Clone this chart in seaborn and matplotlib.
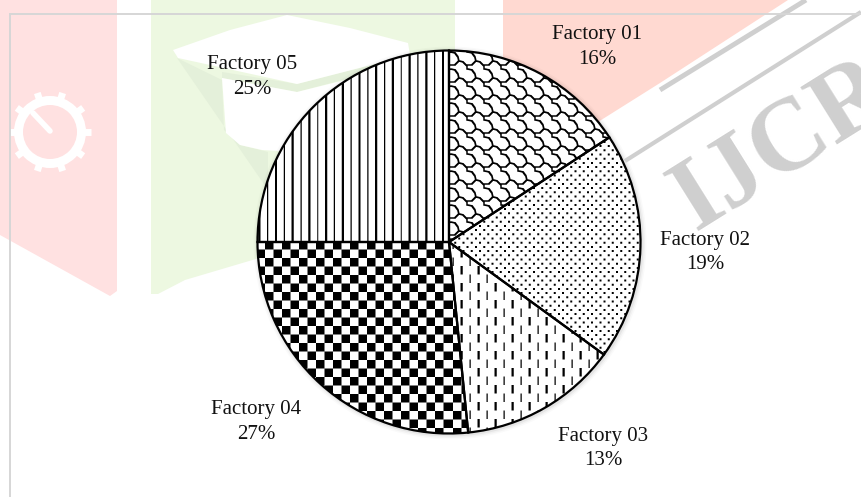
import numpy as np
import seaborn as sns
import matplotlib.pyplot as plt
from matplotlib.patches import Polygon, Circle

categories = ["Factory 01", "Factory 02", "Factory 03", "Factory 04", "Factory 05"]
shares = [15.8, 19.2, 13.4, 26.6, 25.0]
shown_pct = [16, 19, 13, 27, 25]
label_pos = [(597, 47), (705, 252.5), (603, 448.5), (256, 422), (252, 77)]

sns.set_theme(style="white")
plt.rcParams["font.family"] = ["Liberation Serif", "DejaVu Serif"]

W, H = 861, 497
CX, CY, R = 449, 242, 191.5
fig = plt.figure(figsize=(W / 100, H / 100), dpi=100)

# faded page watermark, in pixel coords
bg = fig.add_axes([0, 0, 1, 1])
bg.set_xlim(0, W)
bg.set_ylim(H, 0)
bg.axis("off")

PINK = "#ffe1e1"
GREEN = "#edf8e1"
SALMON = "#ffd9d1"
GREY = "#cfcfcf"
SHADE = "#e4f0da"

bg.add_patch(Polygon([(0, 0), (117, 0), (117, 291), (110, 296), (0, 235)], fc=PINK, lw=0))
bg.add_patch(Polygon([(151, 0), (455, 0), (455, 200), (185, 280), (158, 294), (151, 294)], fc=GREEN, lw=0))
bg.add_patch(Polygon([(503, 0), (788, 0), (660, 83), (598, 122), (503, 122)], fc=SALMON, lw=0))

# hat shape in the green band
bg.add_patch(Polygon([(177, 58), (222, 80), (224, 130), (240, 145), (268, 152), (268, 190)], fc=SHADE, lw=0))
bg.add_patch(Polygon([(222, 72), (297, 84), (410, 55), (410, 62), (297, 92), (222, 78)], fc=SHADE, lw=0))
bg.add_patch(Polygon([(173, 50), (230, 30), (287, 15), (350, 28), (408, 43), (410, 55), (297, 84), (178, 58)],
                     fc="white", lw=0))
bg.add_patch(Polygon([(222, 78), (297, 92), (345, 80), (345, 155), (262, 150), (240, 145), (226, 133)], fc="white", lw=0))

# gear on the pink band
GX, GY = 50, 132
for a in np.arange(0, 2 * np.pi, 2 * np.pi / 10):
    bg.plot([GX + 30 * np.cos(a), GX + 41 * np.cos(a)], [GY + 30 * np.sin(a), GY + 41 * np.sin(a)],
            color="white", lw=5, solid_capstyle="butt")
bg.add_patch(Circle((GX, GY), 36, fc="white", lw=0))
bg.add_patch(Circle((GX, GY), 27, fc=PINK, lw=0))
bg.plot([33, 50], [113, 131], color="white", lw=4, solid_capstyle="round")

# grey stripes and letters
bg.plot([660, 806], [90, 0], color=GREY, lw=3.5, solid_capstyle="butt")
bg.plot([625, 861], [161, 12], color=GREY, lw=3, solid_capstyle="butt")
bg.text(783, 146, "IJCR", color=GREY, fontsize=74, fontweight="bold", rotation=32,
        ha="center", va="center", rotation_mode="anchor")

# page frame
bg.plot([10, 10, W], [H, 14, 14], color="#d6d6d6", lw=1.4, solid_joinstyle="miter")

# soft shadow round the pie
for grow, alpha in [(5, 0.02), (3.5, 0.03), (2, 0.05)]:
    bg.add_patch(Circle((CX + 1, CY + 1), R + grow, fc="black", alpha=alpha, lw=0))

# pie axes lined up on whole pixels so the fill patterns stay crisp
half = 194
ax = fig.add_axes([(CX - half) / W, 1 - (CY + half) / H, 2 * half / W, 2 * half / H])
ax.axis("off")

# patterns are worked out at 4x and averaged down, which gives soft edges like the scan
SS = 4
sub = (np.arange(2 * half * SS) + 0.5) / SS
X, Y = np.meshgrid(CX - half + sub, CY - half + sub)


def near(values, period):
    return np.abs((values + period / 2) % period - period / 2)


def shrink(mask):
    n = 2 * half
    return mask.reshape(n, SS, n, SS).mean(axis=(1, 3))


def shingle():
    size = 17 * SS
    tile = np.ones((size, size))
    strokes = [[(0, 0), (5, 1), (8, 5), (9, 9), (13, 10), (17, 14), (17, 17)],
               [(9, 9), (5, 13), (0, 13)]]
    for stroke in strokes:
        for (x0, y0), (x1, y1) in zip(stroke[:-1], stroke[1:]):
            for t in np.linspace(0, 1, 80):
                cx = int((x0 + (x1 - x0) * t) * SS)
                cy = int((y0 + (y1 - y0) * t) * SS)
                for dx in range(-3, 3):
                    for dy in range(-3, 3):
                        tile[(cy + dy) % size, (cx + dx) % size] = 0
    ix = ((X - 449) * SS).astype(int) % size
    iy = ((Y - 52) * SS).astype(int) % size
    return tile[iy, ix]


def dots():
    row = np.floor((Y - 60) / 4.2).astype(int)
    dx = near(X - 450 - (row % 2) * 4.15, 8.3)
    dy = near(Y - 60 - 2.1, 4.2)
    return np.where((dx < 1.0) & (dy < 1.0), 0.0, 1.0)


def dashes():
    col = np.round((X - 460.7) / 8.5).astype(int)
    dx = np.abs(X - 460.7 - col * 8.5)
    width = np.where(col % 2 == 0, 1.1, 0.6)
    on = (Y - 283 - (col % 2) * 8.5) % 17 < 8.5
    return np.where((dx < width) & on, 0.0, 1.0)


def checker():
    return ((np.floor((X - 265) / 8.5) + np.floor((Y - 241) / 8.5)) % 2).astype(float)


def stripes():
    d = near(X - 443, 16.7)
    return np.where((d < 1.1) | (np.abs(d - 8.35) < 0.6), 0.0, 1.0)


patterns = [shrink(p()) for p in (shingle, dots, dashes, checker, stripes)]

fills, _ = ax.pie(shares, startangle=90, counterclock=False, colors=["white"] * 5,
                  wedgeprops={"linewidth": 0, "zorder": 1})
outlines, _ = ax.pie(shares, startangle=90, counterclock=False,
                     wedgeprops={"fill": False, "edgecolor": "black", "linewidth": 1.6, "zorder": 3})

lim = half / R
for wedge, pattern in zip(fills, patterns):
    im = ax.imshow(pattern, cmap="gray", vmin=0, vmax=1, extent=(-lim, lim, -lim, lim),
                   aspect="auto", interpolation="nearest", zorder=2)
    im.set_clip_path(wedge)
ax.set_xlim(-lim, lim)
ax.set_ylim(-lim, lim)
ax.set_aspect("auto")

for name, pct, (px, py) in zip(categories, shown_pct, label_pos):
    ax.text(px, py, f"{name}\n{pct}%", transform=bg.transData, ha="center", va="center",
            fontsize=15, color="#111111", linespacing=1.4, clip_on=False, zorder=5)

fig.savefig("out.png", dpi=100)
